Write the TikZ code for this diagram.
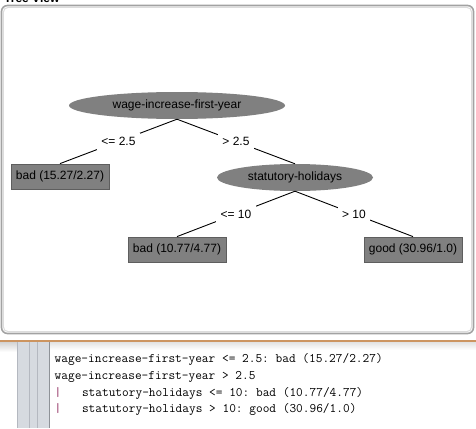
\documentclass[tikz,border=0pt]{standalone}
\usepackage{fontspec}
\setmainfont{Liberation Sans}
\usetikzlibrary{shapes.geometric}
\definecolor{nodegray}{HTML}{808080}
\definecolor{leafborder}{HTML}{5E5E5E}
\definecolor{panelborder}{HTML}{A2A2A2}
\definecolor{panelinner}{HTML}{DCDCDC}
\definecolor{splitline}{HTML}{CC9460}
\definecolor{gutter}{HTML}{D6DAE0}
\definecolor{gutterline}{HTML}{B4B8C0}
\definecolor{gutteredge}{HTML}{8E9298}
\definecolor{pipecol}{HTML}{8A1F55}
\begin{document}
\begin{tikzpicture}[x=1pt,y=-1pt,
  treefont/.style={font=\fontsize{12}{14}\selectfont},
  inner/.style={treefont, ellipse, fill=nodegray, inner sep=0pt, minimum height=27pt},
  leaf/.style={treefont, rectangle, fill=nodegray, draw=leafborder, line width=0.8pt,
    inner sep=0pt, minimum width=98pt, minimum height=25pt},
  lab/.style={treefont, fill=white, inner sep=4.5pt},
  edge/.style={draw=black, line width=0.9pt},
  code/.style={anchor=base west, inner sep=0pt, font=\fontsize{13}{15}\ttfamily\frenchspacing}]
\useasboundingbox (0,0) rectangle (476,428);
\fill[white] (0,0) rectangle (476,428);

% clipped window title
\begin{scope}
  \clip (0,0) rectangle (476,3.5);
  \node[anchor=base west, inner sep=0pt, font=\fontsize{12}{14}\selectfont\bfseries] (title) at (4,2.5) {Tree View};
\end{scope}

% panel
\draw[panelborder, line width=1.6pt, fill=white, rounded corners=6pt] (1.5,5.5) rectangle (473.5,333.5);
\draw[panelinner, line width=1pt, rounded corners=5pt] (3.3,7.3) rectangle (471.7,331.7);

% tree nodes
\node[inner, minimum width=216pt] (root) at (177,105.5) {wage-increase-first-year};
\node[leaf] (leafA) at (60,176.5) {bad (15.27/2.27)};
\node[inner, minimum width=156pt] (stat) at (295,177.5) {statutory-holidays};
\node[leaf] (leafB) at (177,249.5) {bad (10.77/4.77)};
\node[leaf] (leafC) at (413,249.5) {good (30.96/1.0)};

% connectors with labels
\draw[edge] (root.south) -- (leafA.north) node[midway, lab] (l1) {<= 2.5};
\draw[edge] (root.south) -- (stat.north) node[midway, lab] (l2) {> 2.5};
\draw[edge] (stat.south) -- (leafB.north) node[midway, lab] (l3) {<= 10};
\draw[edge] (stat.south) -- (leafC.north) node[midway, lab] (l4) {> 10};

% lower text pane
\shade[top color=black!18, bottom color=white] (0,341.5) rectangle (476,352);
\fill[gutter] (17,342) rectangle (50,428);
\draw[gutterline, line width=0.8pt] (29,342) -- (29,428);
\draw[gutterline, line width=0.8pt] (37,342) -- (37,428);
\draw[gutterline, line width=0.8pt] (17,342) -- (17,428);
\draw[gutteredge, line width=1pt] (49.5,342) -- (49.5,428);
\fill[white] (50,342) rectangle (476,428);
\shade[top color=black!12, bottom color=white] (50,341.5) rectangle (476,350);
\draw[splitline, line width=1.2pt] (0,341) -- (476,341);

\node[code] (c1) at (54.5,362.5) {wage-increase-first-year <= 2.5: bad (15.27/2.27)};
\node[code] (c2) at (54.5,379.2) {wage-increase-first-year > 2.5};
\node[code, text=pipecol] (p3) at (54.5,396) {|};
\node[code] (c3) at (81.8,396) {statutory-holidays <= 10: bad (10.77/4.77)};
\node[code, text=pipecol] (p4) at (54.5,412.7) {|};
\node[code] (c4) at (81.8,412.7) {statutory-holidays > 10: good (30.96/1.0)};
\end{tikzpicture}
\end{document}
